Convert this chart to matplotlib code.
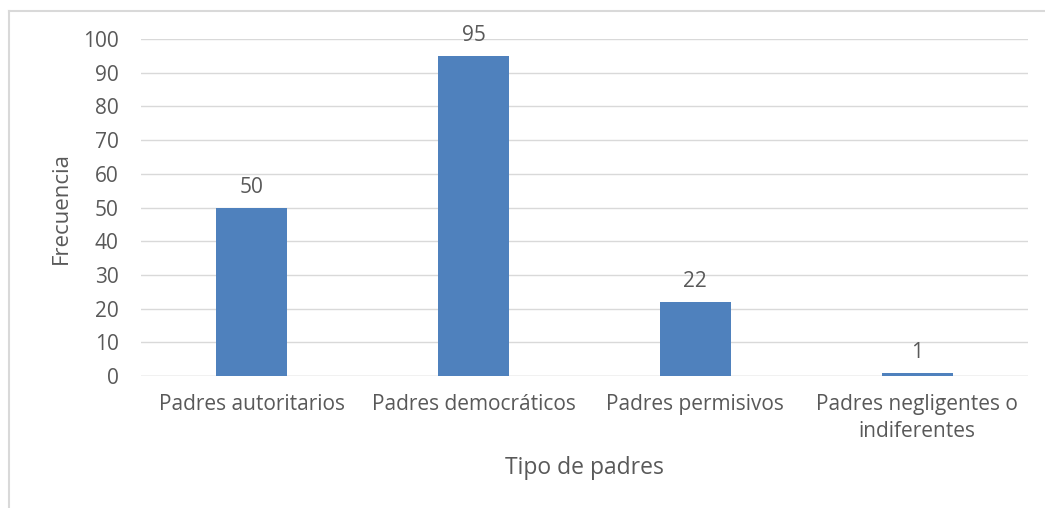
import matplotlib
matplotlib.use("Agg")
import matplotlib.pyplot as plt

categories = ["Padres autoritarios", "Padres democráticos", "Padres permisivos",
              "Padres negligentes o\nindiferentes"]
values = [50, 95, 22, 1]
yticks = [0, 10, 20, 30, 40, 50, 60, 70, 80, 90, 100]

plt.rcParams['font.family'] = ['Open Sans', 'DejaVu Sans']
text_color = '#595959'
bar_color = '#4F81BD'

fig = plt.figure(figsize=(10.45, 5.08), dpi=100)
ax = fig.add_axes([141/1045, 1-376/508, (1028-141)/1045, (376-39)/508])

x = list(range(len(categories)))
ax.bar(x, values, width=0.32, color=bar_color, zorder=3)
for xi, v in zip(x, values):
    ax.annotate(str(v), (xi, v), xytext=(0, 7), textcoords='offset points',
                ha='center', va='bottom', fontsize=15, color=text_color)

ax.set_xlim(-0.5, len(categories) - 0.5)
ax.set_ylim(0, 100)
ax.set_yticks(yticks)
ax.set_xticks(x)
ax.set_xticklabels(categories, fontsize=15, color=text_color, linespacing=1.4)
ax.tick_params(axis='y', labelsize=15, labelcolor=text_color, length=0, pad=16)
ax.tick_params(axis='x', length=0, pad=13)
ax.grid(axis='y', color='#D9D9D9', linewidth=1, zorder=0)
for s in ax.spines.values():
    s.set_visible(False)
ax.axhline(0, color='#D9D9D9', linewidth=1, zorder=2)

ax.set_xlabel("Tipo de padres", fontsize=16.5, color=text_color, labelpad=10)
ax.set_ylabel("Frecuencia", fontsize=16, color=text_color, labelpad=8)

# chart border (left and top visible)
fig.add_artist(plt.Line2D([9/1045, 9/1045], [0, 1-11/508], transform=fig.transFigure,
                          color='#D9D9D9', linewidth=1.5))
fig.add_artist(plt.Line2D([9/1045, 1], [1-11/508, 1-11/508], transform=fig.transFigure,
                          color='#D9D9D9', linewidth=1.5))

fig.savefig("out.png", dpi=100)
